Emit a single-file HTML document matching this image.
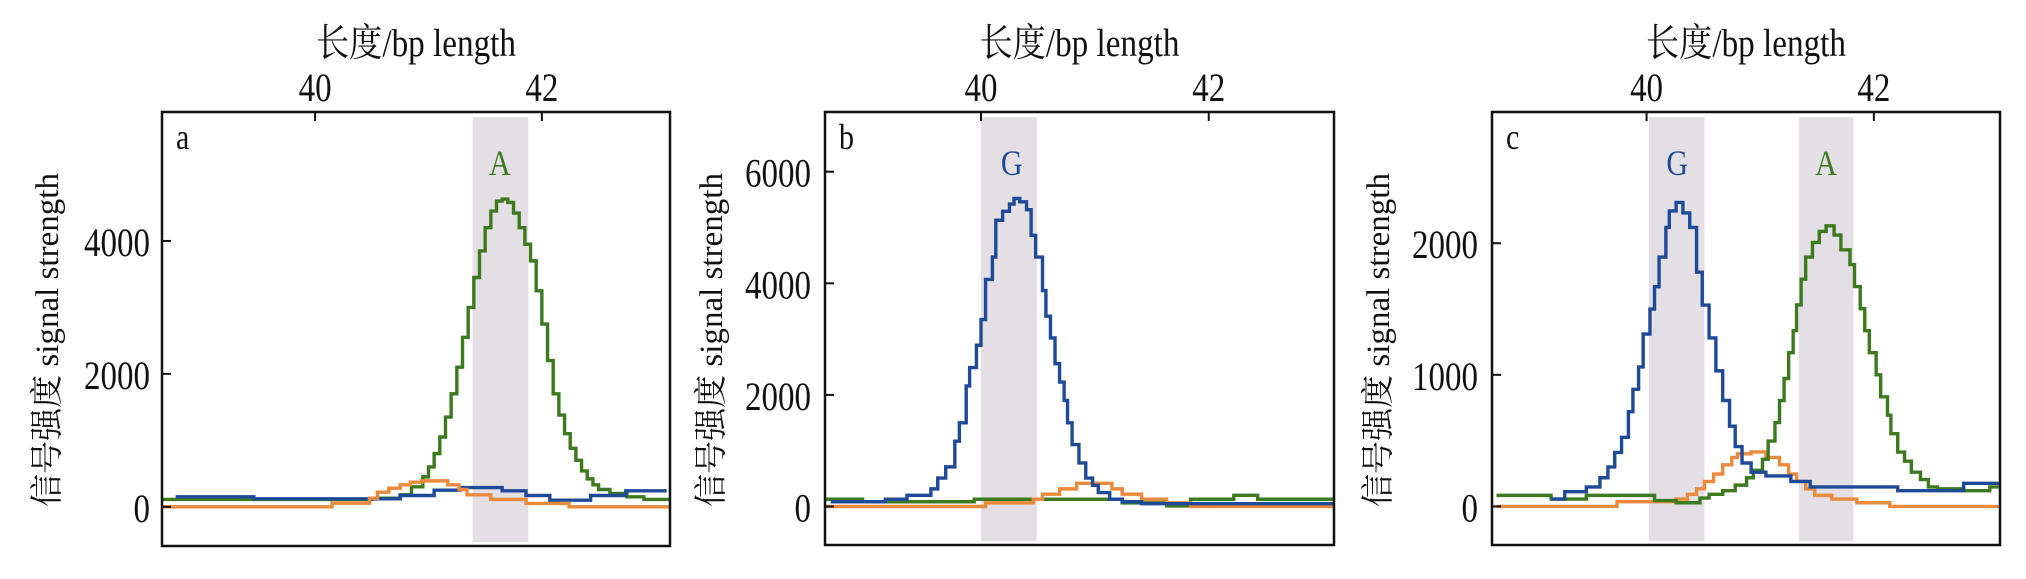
<!DOCTYPE html>
<html><head><meta charset="utf-8"><style>
html,body{margin:0;padding:0;background:#fff;}
svg{display:block;}
text{font-family:"Liberation Serif","Noto Serif CJK SC","Noto Sans CJK SC",serif;}
</style></head>
<body>
<svg id="chart" width="2026" height="579" viewBox="0 0 2026 579" xmlns="http://www.w3.org/2000/svg"></svg>
<script>
// ---- Panel a data (x = step start, last x = end) ----
const aGreenX=[38.65,40.5,40.75,40.85,40.95,41.0,41.05,41.1,41.15,41.2,41.25,41.3,41.35,41.4,41.45,41.5,41.55,41.6,41.65,41.7,41.75,41.8,41.85,41.9,41.95,42.0,42.05,42.1,42.15,42.2,42.25,42.3,42.35,42.4,42.45,42.5,42.6,42.75,42.9,43.12];
const aGreenY=[110,130,180,300,450,600,800,1050,1350,1700,2100,2550,3000,3450,3850,4200,4450,4600,4630,4580,4420,4200,3950,3700,3250,2750,2200,1700,1380,1100,880,700,540,420,330,260,200,150,110];
const aBlueX=[38.77,39.46,40.75,41.05,41.28,41.65,41.86,42.07,42.43,42.74,43.1];
const aBlueY=[150,120,170,250,290,240,170,100,170,240];
const aOrangeX=[38.65,40.15,40.48,40.55,40.65,40.75,40.84,40.94,41.17,41.27,41.34,41.55,41.86,42.24,43.12];
const aOrangeY=[0,55,130,220,280,330,370,390,330,260,180,110,50,0];
// ---- Panel b data ----
const bBlueX=[38.68,39.16,39.35,39.56,39.62,39.69,39.77,39.81,39.87,39.90,39.96,40.0,40.04,40.10,40.13,40.19,40.25,40.29,40.34,40.40,40.44,40.48,40.54,40.57,40.61,40.65,40.69,40.73,40.76,40.80,40.86,40.92,40.98,41.03,41.13,41.24,41.41,43.10];
const bBlueY=[85,130,200,316,510,710,1170,1500,2160,2490,2890,3350,4070,4470,5130,5290,5420,5520,5460,5320,4860,4470,3870,3410,3020,2560,2230,1900,1500,1110,780,510,380,250,130,85,50];
const bOrangeX=[38.63,40.04,40.46,40.54,40.69,40.84,41.15,41.24,41.41,41.63,41.84,43.10];
const bOrangeY=[0,65,130,220,316,415,316,220,130,65,0];
const bGreenX=[38.63,38.96,39.94,41.24,41.63,41.84,42.22,42.43,43.10];
const bGreenY=[130,85,130,65,10,130,200,130];
// ---- Panel c data ----
const cBlueX=[39.16,39.28,39.47,39.59,39.66,39.72,39.78,39.84,39.88,39.93,39.97,40.03,40.07,40.11,40.17,40.20,40.26,40.32,40.38,40.44,40.49,40.55,40.61,40.67,40.73,40.78,40.84,40.92,41.05,41.27,41.44,42.21,42.79,43.10];
const cBlueY=[56,112,148,218,300,410,525,720,890,1060,1310,1500,1670,1895,2120,2245,2310,2230,2120,1780,1530,1280,1030,805,610,455,330,260,232,190,148,120,176];
const cGreenX=[38.68,39.16,39.47,40.07,40.26,40.47,40.55,40.67,40.78,40.88,40.94,41.02,41.07,41.13,41.17,41.21,41.25,41.29,41.32,41.36,41.40,41.46,41.52,41.58,41.65,41.71,41.79,41.83,41.88,41.92,41.96,42.02,42.06,42.12,42.15,42.21,42.27,42.33,42.41,42.48,42.56,42.79,43.02,43.10];
const cGreenY=[84,56,84,45,28,64,92,120,162,218,274,358,497,637,805,972,1168,1335,1531,1727,1895,2006,2090,2132,2062,1950,1838,1671,1503,1335,1168,1000,833,693,553,413,344,260,204,148,134,120,148];
const cOrangeX=[38.68,39.74,40.26,40.36,40.44,40.51,40.59,40.67,40.75,40.80,40.92,41.05,41.17,41.25,41.32,41.40,41.48,41.63,41.85,42.14,43.10];
const cOrangeY=[0,36,56,92,134,190,246,316,372,400,414,372,316,246,190,134,84,56,28,0];
// ---- axis ticks ----
const xTicks=[40,42];
const aYTicks=[0,2000,4000];
const bYTicks=[0,2000,4000,6000];
const cYTicks=[0,1000,2000];

const GREEN="#3d7a1f",BLUE="#1f4a98",ORANGE="#ea8a3c",SHADE="#e4dfe4";
const svg=document.getElementById('chart');
const NS="http://www.w3.org/2000/svg";
function mk(tag,attrs,parent){const e=document.createElementNS(NS,tag);for(const k in attrs)e.setAttribute(k,attrs[k]);(parent||svg).appendChild(e);return e;}

function panel(p){
  const g=mk('g',{});
  
  
  const sx=v=>p.x0px+(v-p.xmin)/(p.xmax-p.xmin)*(p.x1px-p.x0px);
  const sy=v=>p.y0px-(v-p.ymin)/(p.ymax-p.ymin)*(p.y0px-p.y1px);
  p.shades.forEach(s=>{
    const r=mk('rect',{x:sx(s[0]),y:117,width:sx(s[1])-sx(s[0]),height:p.y0px-4-117,fill:SHADE},g);
    
    
  });
  p.series.forEach(s=>{
    let d='M'+sx(s.x[0])+' '+sy(s.y[0]);
    for(let i=1;i<s.x.length;i++){
      d+=' H'+sx(s.x[i]);
      if(i<s.y.length)d+=' V'+sy(s.y[i]);
    }
    const path=mk('path',{d:d,fill:'none',stroke:s.c,'stroke-width':3.4},g);
    
    
  });
  const box=mk('rect',{x:p.x0px,y:p.y1px,width:p.x1px-p.x0px,height:p.y0px-p.y1px,fill:'none',stroke:'#111','stroke-width':2.5},g);
  
  
  xTicks.forEach(t=>{
    const X=sx(t);
    const l=mk('line',{x1:X,x2:X,y1:p.y1px,y2:p.y1px+9,stroke:'#111','stroke-width':2},g);
    
    
    const tx=mk('text',{x:X,y:0,'font-size':33,'text-anchor':'middle',transform:'translate(0,101) scale(1,1.22)',fill:'#111'},g);
    tx.textContent=String(t);
    
    
  });
  p.yTicks.forEach(t=>{
    const Y=sy(t);
    const l=mk('line',{x1:p.x0px,x2:p.x0px+9,y1:Y,y2:Y,stroke:'#111','stroke-width':2},g);
    
    
    const tx=mk('text',{x:p.labR,y:0,'font-size':33,'text-anchor':'end',transform:'translate(0,'+(Y+15)+') scale(1,1.22)',fill:'#111'},g);
    tx.textContent=String(t);
    
    
  });
  const xt=mk('text',{x:0,y:0,'font-size':31,'text-anchor':'middle',textLength:200,lengthAdjust:'spacingAndGlyphs',transform:'translate('+((p.x0px+p.x1px)/2)+',56) scale(1,1.25)',fill:'#111'},g);
  xt.textContent='长度/bp length';
  
  
  const yt=mk('text',{x:0,y:0,'font-size':33,'text-anchor':'middle',textLength:334,lengthAdjust:'spacingAndGlyphs',transform:'translate('+(p.ytX+12)+',340) rotate(-90)',fill:'#111'},g);
  yt.textContent='信号强度 signal strength';
  
  
  const pl=mk('text',{x:0,y:0,'font-size':30,fill:'#111',transform:'translate('+(p.x0px+14)+',149) scale(1,1.2)'},g);
  pl.textContent=p.id;
  
  
  p.labels.forEach(lb=>{
    const t=mk('text',{x:0,y:0,'font-size':30,'text-anchor':'middle',fill:lb[2],transform:'translate('+sx(lb[1])+',175) scale(1,1.2)'},g);
    t.textContent=lb[0];
    
    
  });
}

panel({id:'a',x0px:162,x1px:670,xmin:38.65,xmax:43.13,y0px:546,y1px:112,ymin:-590,ymax:5940,
  yTicks:aYTicks,labR:150,ytX:46,shades:[[41.39,41.88,'A']],labels:[['A',41.63,GREEN]],
  series:[{x:aGreenX,y:aGreenY,c:GREEN,n:'green-A'},{x:aBlueX,y:aBlueY,c:BLUE,n:'blue-G'},{x:aOrangeX,y:aOrangeY,c:ORANGE,n:'orange'}]});
panel({id:'b',x0px:825,x1px:1334,xmin:38.63,xmax:43.1,y0px:545,y1px:112,ymin:-690,ymax:7070,
  yTicks:bYTicks,labR:811,ytX:710,shades:[[40.0,40.49,'G']],labels:[['G',40.27,BLUE]],
  series:[{x:bGreenX,y:bGreenY,c:GREEN,n:'green-A'},{x:bOrangeX,y:bOrangeY,c:ORANGE,n:'orange'},{x:bBlueX,y:bBlueY,c:BLUE,n:'blue-G'}]});
panel({id:'c',x0px:1492,x1px:2000,xmin:38.64,xmax:43.11,y0px:545,y1px:112,ymin:-293,ymax:2997,
  yTicks:cYTicks,labR:1478,ytX:1377,shades:[[40.02,40.51,'G'],[41.34,41.82,'A']],labels:[['G',40.27,BLUE],['A',41.58,GREEN]],
  series:[{x:cOrangeX,y:cOrangeY,c:ORANGE,n:'orange'},{x:cGreenX,y:cGreenY,c:GREEN,n:'green-A'},{x:cBlueX,y:cBlueY,c:BLUE,n:'blue-G'}]});
</script>
</body></html>
